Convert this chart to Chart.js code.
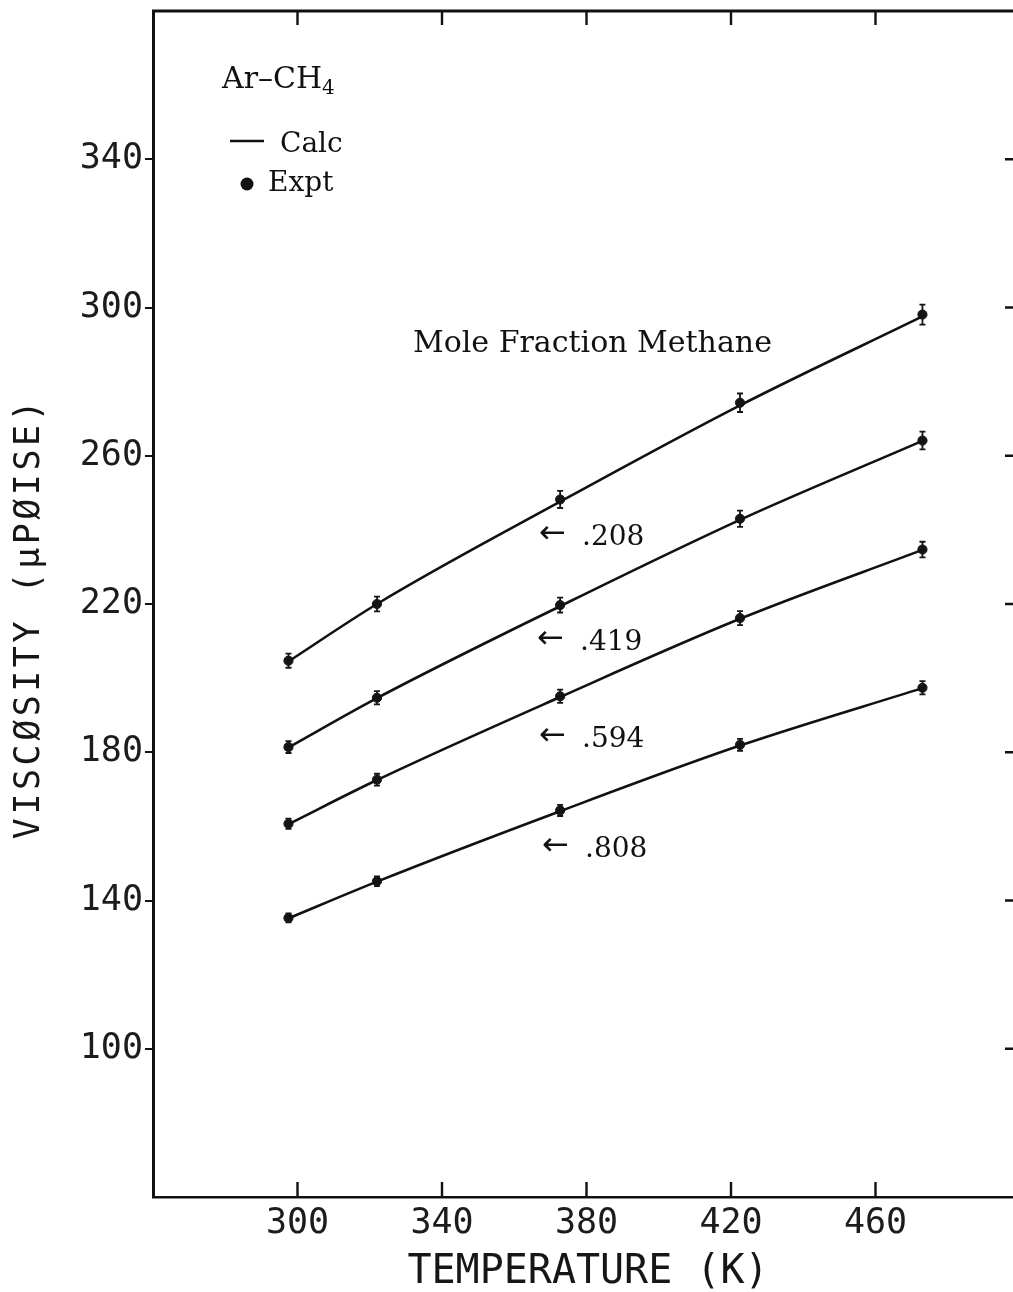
<!DOCTYPE html>
<html><head><meta charset="utf-8">
<script src="https://cdn.jsdelivr.net/npm/chart.js@4/dist/chart.umd.min.js"></script>
<style>
html,body{margin:0;padding:0;background:#fff;overflow:hidden;width:1013px;height:1292px}
#wrap{width:1030px;height:1292px;position:relative}
canvas{display:block}
</style>
</head><body><div id="wrap"><canvas id="c" width="1030" height="1292"></canvas></div>
<script>
// ---- data ----
const temperatures = [297.5, 322, 372.7, 422.5, 473];
const fractionLabels = ['.208', '.419', '.594', '.808'];
const expt208 = [204.7, 220.0, 248.2, 274.3, 298.1];
const expt419 = [181.4, 194.7, 219.7, 243.0, 264.1];
const expt594 = [160.7, 172.6, 195.1, 216.2, 234.7];
const expt808 = [135.3, 145.2, 164.3, 182.0, 197.4];
const calc208 = [204.5, 220.0, 247.6, 273.6, 297.6];
const calc419 = [181.3, 194.6, 219.4, 242.7, 264.0];
const calc594 = [160.6, 172.5, 194.9, 216.0, 234.6];
const calc808 = [135.2, 145.1, 164.1, 181.8, 197.3];
const err208 = [1.9, 2.0, 2.3, 2.5, 2.7];
const err419 = [1.6, 1.8, 2.0, 2.2, 2.4];
const err594 = [1.4, 1.6, 1.8, 1.9, 2.1];
const err808 = [1.2, 1.3, 1.5, 1.6, 1.8];
const xTicks = [300, 340, 380, 420, 460];
const yTicks = [100, 140, 180, 220, 260, 300, 340];
const xMin = 260, xMax = 500, yMin = 60, yMax = 380;

const calcSeries = [calc208, calc419, calc594, calc808];
const exptSeries = [expt208, expt419, expt594, expt808];
const errSeries = [err208, err419, err594, err808];

const pts = arr => arr.map((v, i) => ({x: temperatures[i], y: v}));

const datasets = [];
calcSeries.forEach((s, k) => datasets.push({
  label: 'Calc ' + fractionLabels[k], data: pts(s), showLine: true,
  borderColor: '#111', borderWidth: 2.6, pointRadius: 0,
  cubicInterpolationMode: 'monotone', fill: false
}));
exptSeries.forEach((s, k) => datasets.push({
  label: 'Expt ' + fractionLabels[k], data: pts(s), showLine: false,
  pointRadius: 4.6, pointBackgroundColor: '#151515', pointBorderColor: '#151515',
  pointBorderWidth: 1, errors: errSeries[k]
}));

const tickFont = {family: '"DejaVu Sans Mono", monospace', size: 35};

const errorBars = {
  id: 'errorBars',
  afterDatasetsDraw(chart) {
    const {ctx, scales: {x, y}} = chart;
    ctx.save();
    ctx.strokeStyle = '#151515';
    ctx.lineWidth = 1.8;
    chart.data.datasets.forEach(ds => {
      if (!ds.errors) return;
      ds.data.forEach((p, i) => {
        const px = x.getPixelForValue(p.x);
        const top = y.getPixelForValue(p.y + ds.errors[i]);
        const bot = y.getPixelForValue(p.y - ds.errors[i]);
        ctx.beginPath();
        ctx.moveTo(px, top); ctx.lineTo(px, bot);
        ctx.moveTo(px - 3, top); ctx.lineTo(px + 3, top);
        ctx.moveTo(px - 3, bot); ctx.lineTo(px + 3, bot);
        ctx.stroke();
      });
    });
    ctx.restore();
  }
};

const frame = {
  id: 'frame',
  afterDraw(chart) {
    const {ctx, chartArea: a, scales: {x, y}} = chart;
    ctx.save();
    ctx.strokeStyle = '#111';
    ctx.lineWidth = 3;
    ctx.beginPath();
    ctx.moveTo(a.left - 1, a.top); ctx.lineTo(a.right, a.top); ctx.lineTo(a.right, a.bottom);
    ctx.stroke();
    ctx.lineWidth = 2.4;
    ctx.beginPath();
    xTicks.forEach(v => {
      const px = x.getPixelForValue(v);
      ctx.moveTo(px, a.bottom); ctx.lineTo(px, a.bottom - 15);
      ctx.moveTo(px, a.top); ctx.lineTo(px, a.top + 14);
    });
    yTicks.forEach(v => {
      const py = y.getPixelForValue(v);
      ctx.moveTo(a.right, py); ctx.lineTo(a.right - 15, py);
    });
    ctx.stroke();

    // axis titles
    ctx.fillStyle = '#161616';
    ctx.font = '40px "DejaVu Sans Mono", monospace';
    ctx.textAlign = 'center';
    ctx.textBaseline = 'middle';
    ctx.fillText('TEMPERATURE (K)', 588, 1273);
    ctx.save();
    ctx.translate(30, 618);
    ctx.rotate(-Math.PI / 2);
    ctx.font = '35px "DejaVu Sans Mono", monospace';
    try { ctx.letterSpacing = '3.5px'; } catch (e) {}
    ctx.fillText('VISC\u00D8SITY (\u03BCP\u00D8ISE)', 0, 0);
    ctx.restore();

    // annotations
    ctx.fillStyle = '#111';
    ctx.textAlign = 'left';
    ctx.textBaseline = 'alphabetic';
    const serif = '"DejaVu Serif", serif';
    ctx.font = '30px ' + serif;
    ctx.fillText('Ar\u2013CH', 222, 88);
    const w = ctx.measureText('Ar\u2013CH').width;
    ctx.font = '20px ' + serif;
    ctx.fillText('4', 222 + w, 94);
    ctx.font = '28px ' + serif;
    ctx.beginPath();
    ctx.lineWidth = 2.4;
    ctx.moveTo(230, 141); ctx.lineTo(264, 141);
    ctx.stroke();
    ctx.fillText('Calc', 280, 152);
    ctx.beginPath();
    ctx.arc(247, 184, 6.5, 0, Math.PI * 2);
    ctx.fill();
    ctx.fillText('Expt', 268, 191);
    ctx.font = '30px ' + serif;
    ctx.fillText('Mole Fraction Methane', 413, 352);

    const labelPos = [[540, 545], [538, 650], [540, 747], [543, 857]];
    fractionLabels.forEach((t, k) => {
      const [lx, ly] = labelPos[k];
      ctx.font = '32px "DejaVu Sans", sans-serif';
      ctx.fillText('\u2190', lx - 1, ly - 2);
      ctx.font = '28px ' + serif;
      ctx.fillText(t, lx + 42, ly);
    });
    ctx.restore();
  }
};

new Chart(document.getElementById('c'), {
  type: 'line',
  data: {datasets},
  options: {
    responsive: false,
    animation: false,
    events: [],
    layout: {padding: {left: 0, right: 10, top: 11, bottom: 0}},
    plugins: {legend: {display: false}, tooltip: {enabled: false}},
    scales: {
      x: {
        type: 'linear', min: xMin, max: xMax,
        afterBuildTicks: s => { s.ticks = xTicks.map(v => ({value: v})); },
        afterFit: s => { s.height = 95; s.paddingLeft = 0; s.paddingRight = 0; },
        grid: {drawOnChartArea: false, drawTicks: false},
        border: {display: true, color: '#111', width: 2.6},
        ticks: {font: tickFont, color: '#1c1c1c', padding: 6, maxRotation: 0}
      },
      y: {
        type: 'linear', min: yMin, max: yMax,
        afterBuildTicks: s => { s.ticks = yTicks.map(v => ({value: v})); },
        afterFit: s => { s.width = 153; s.paddingTop = 0; s.paddingBottom = 0; },
        grid: {drawOnChartArea: false, drawTicks: true, tickLength: 8, color: '#111', lineWidth: 2},
        border: {display: true, color: '#111', width: 3},
        ticks: {font: tickFont, color: '#1c1c1c', padding: 2}
      }
    }
  },
  plugins: [errorBars, frame]
});
</script>
</body></html>
